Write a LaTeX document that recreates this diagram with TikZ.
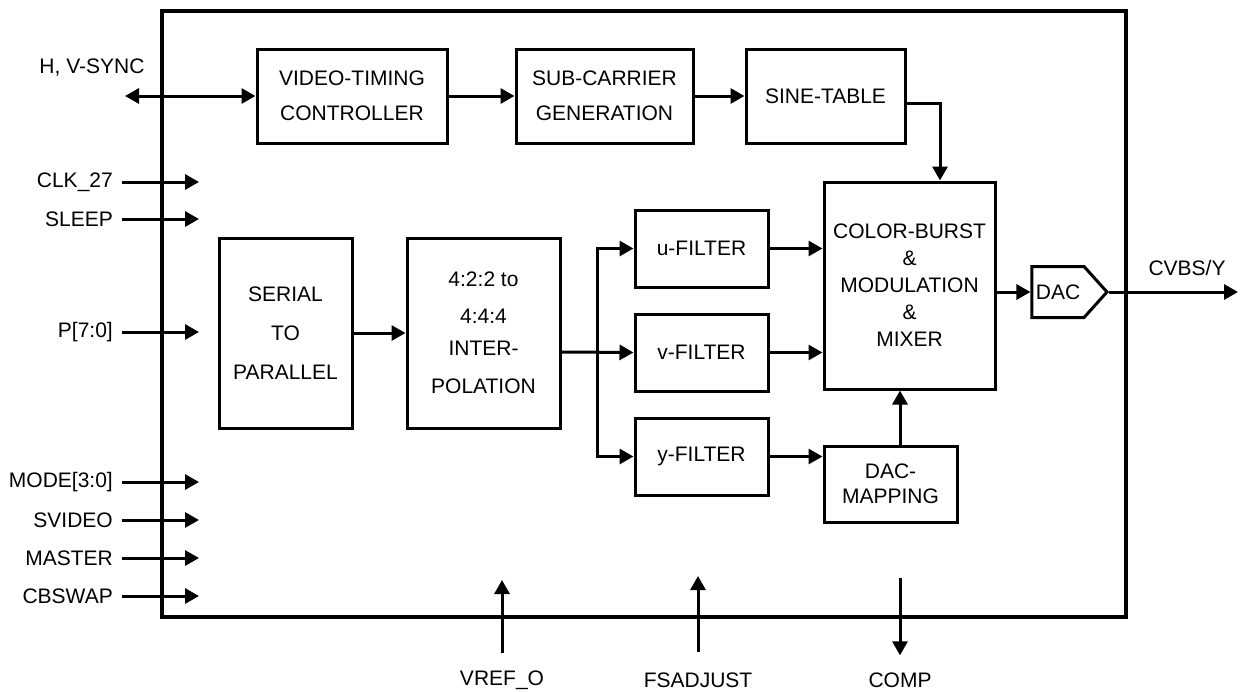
\documentclass[tikz,border=0pt]{standalone}
\usepackage{fontspec}
\setmainfont{Liberation Sans}
\usetikzlibrary{arrows.meta,shapes.symbols}

\tikzset{
  blk/.style={draw,line width=3pt,inner sep=0pt,align=center},
  sig/.style={line width=3pt,-{Triangle[length=14pt,width=15pt]}},
  bisig/.style={line width=3pt,{Triangle[length=14pt,width=15pt]}-{Triangle[length=14pt,width=15pt]}},
  lbl/.style={inner sep=0pt},
}

\begin{document}
\begin{tikzpicture}[x=1pt,y=-1pt,font=\fontsize{21}{25}\selectfont]
\useasboundingbox (0,0) rectangle (1241,691);
% chip outline
\draw[line width=3.2pt] (162,11) rectangle (1126,617);

% blocks
\node[blk,minimum width=190pt,minimum height=94pt] (vtc) at (352,96) {VIDEO-TIMING\\[10pt]CONTROLLER};
\node[blk,minimum width=177pt,minimum height=94pt] (sub) at (604.5,96) {SUB-CARRIER\\[10pt]GENERATION};
\node[blk,minimum width=159pt,minimum height=94pt] (sine) at (825.5,96) {SINE-TABLE};
\node[blk,minimum width=133pt,minimum height=190pt] (s2p) at (285.5,333) {SERIAL\\[14pt]TO\\[14pt]PARALLEL};
\node[blk,minimum width=153pt,minimum height=190pt] (intp) at (483.5,333) {4:2:2 to\\[12pt]4:4:4\\[7pt]INTER-\\[13pt]POLATION};
\node[blk,minimum width=133pt,minimum height=77pt] (ufil) at (701.5,248.5) {u-FILTER};
\node[blk,minimum width=133pt,minimum height=77pt] (vfil) at (701.5,352.5) {v-FILTER};
\node[blk,minimum width=133pt,minimum height=77pt] (yfil) at (701.5,456.5) {y-FILTER};
\node[blk,minimum width=171pt,minimum height=207pt] (mix) at (909.5,285.5) {COLOR-BURST\\[2pt]\&\\[2pt]MODULATION\\[2pt]\&\\[2pt]MIXER};
\node[blk,minimum width=133pt,minimum height=76pt] (dmap) at (890.5,484) {DAC-\\MAPPING};
\node[blk,shape=signal,signal to=east,signal pointer angle=96,minimum width=75pt,minimum height=51pt] (dac) at (1058,292) {DAC};
\coordinate (split) at (597,352);

% internal connections
\draw[sig] (vtc.east) -- (sub.west);
\draw[sig] (sub.east) -- (sine.west);
\draw[sig] ([yshift=-7pt]sine.east) -| ([xshift=30.5pt]mix.north);
\draw[sig] (s2p.east) -- (intp.west);
\draw[sig] (intp.east |- split) -- (vfil.west);
\draw[sig] (split) |- (ufil.west);
\draw[sig] (split) |- (yfil.west);
\draw[sig] (ufil.east) -- (mix.west |- ufil);
\draw[sig] (vfil.east) -- (mix.west |- vfil);
\draw[sig] (yfil.east) -- (dmap.west |- yfil);
\draw[sig] ([xshift=9.5pt]dmap.north) -- ([xshift=9.5pt]dmap.north |- mix.south);
\draw[sig] (mix.east |- dac) -- (dac.west);

% outputs
\coordinate (cvbsend) at (1238,292);
\node[lbl] (cvbs) at (1187,268) {CVBS/Y};
\draw[sig] (dac.east) -- (cvbsend);

% sync
\node[lbl] (hv) at (92,68) {H, V-SYNC};
\coordinate (hvend) at (125,96);
\draw[bisig] (hvend) -- (vtc.west);

% left inputs
\node[lbl,anchor=east] (clk) at (113,182) {CLK\_27};
\node[lbl,anchor=east] (sleep) at (113,219) {SLEEP};
\node[lbl,anchor=east] (pin) at (113,332) {P[7:0]};
\node[lbl,anchor=east] (mode) at (113,482) {MODE[3:0]};
\node[lbl,anchor=east] (svideo) at (113,520) {SVIDEO};
\node[lbl,anchor=east] (master) at (113,558) {MASTER};
\node[lbl,anchor=east] (cbswap) at (113,596) {CBSWAP};
\coordinate (clkend) at (199,182);
\coordinate (sleepend) at (199,219);
\coordinate (pinend) at (199,332);
\coordinate (modeend) at (199,482);
\coordinate (svideoend) at (199,520);
\coordinate (masterend) at (199,558);
\coordinate (cbswapend) at (199,596);
\draw[sig] ([xshift=9pt]clk.east) -- (clkend);
\draw[sig] ([xshift=9pt]sleep.east) -- (sleepend);
\draw[sig] ([xshift=9pt]pin.east) -- (pinend);
\draw[sig] ([xshift=9pt]mode.east) -- (modeend);
\draw[sig] ([xshift=9pt]svideo.east) -- (svideoend);
\draw[sig] ([xshift=9pt]master.east) -- (masterend);
\draw[sig] ([xshift=9pt]cbswap.east) -- (cbswapend);

% bottom pins
\node[lbl] (vref) at (502,680) {VREF\_O};
\node[lbl] (fsadj) at (698,680) {FSADJUST};
\node[lbl] (comp) at (900,680) {COMP};
\coordinate (vrefend) at (502,580);
\coordinate (fsadjend) at (698,576);
\coordinate (compstart) at (900,578);
\draw[sig] ([yshift=17pt]vref.north) -- (vrefend);
\draw[sig] ([yshift=20pt]fsadj.north) -- (fsadjend);
\draw[sig] (compstart) -- ([yshift=17pt]comp.north);
\end{tikzpicture}
\end{document}
